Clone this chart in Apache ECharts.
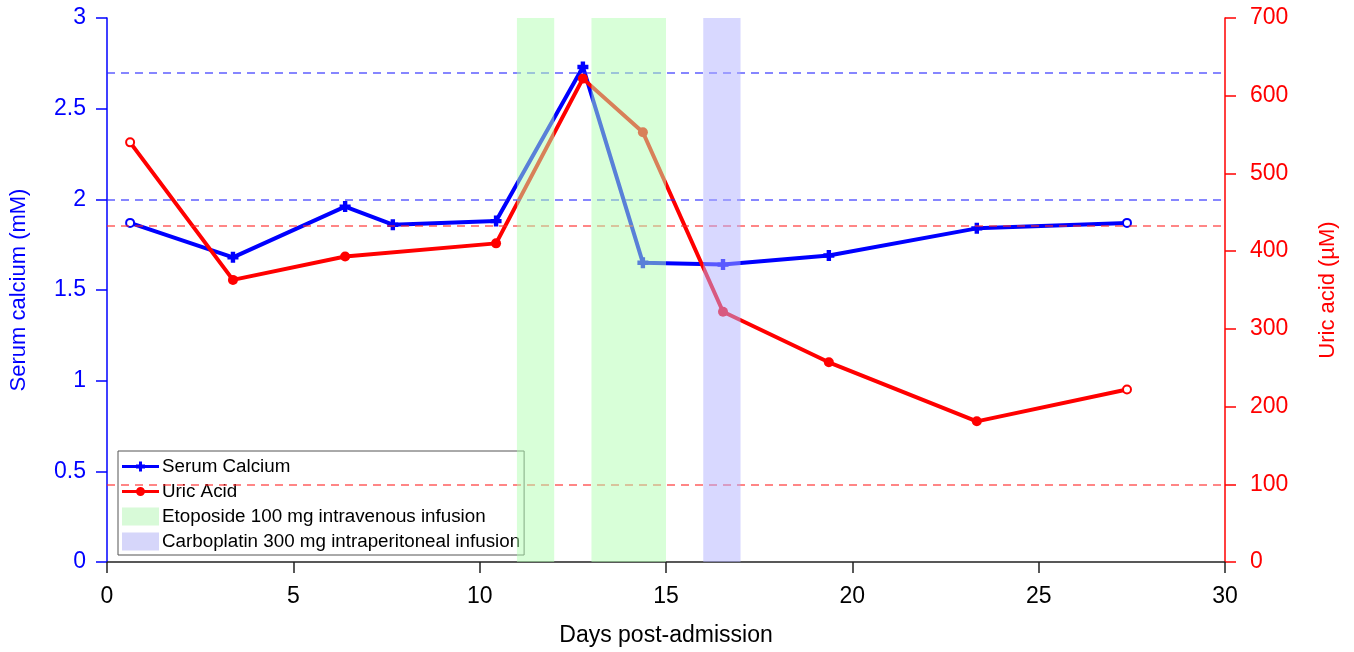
<!DOCTYPE html>
<html>
<head>
<meta charset="utf-8">
<script src="https://cdn.jsdelivr.net/npm/echarts@6/dist/echarts.min.js"></script>
<style>
  html, body { margin: 0; padding: 0; background: #fff; }
  #main { width: 1354px; height: 652px; }
</style>
</head>
<body>
<div id="main"></div>
<script>
// days of each measurement
var calciumDays = [0.62, 3.38, 6.39, 7.67, 10.44, 12.77, 14.38, 16.53, 19.37, 23.34, 27.37];
var calciumValues = [1.87, 1.68, 1.96, 1.86, 1.88, 2.73, 1.65, 1.64, 1.69, 1.84, 1.87];
var uricDays = [0.62, 3.38, 6.39, 10.44, 12.77, 14.38, 16.53, 19.37, 23.34, 27.37];
var uricValues = [540, 363, 393, 410, 622, 553, 322, 257, 181, 222];
// reference ranges
var calciumRefs = [2.0, 2.7];
var uricRefs = [100, 433];
// treatment windows (days)
var etoposideDays = [[11, 12], [13, 15]];
var carboplatinDays = [[16, 17]];

var font = 'Liberation Sans, Arial, sans-serif';
var plusPath = 'path://M3,0 L7,0 L7,3 L10,3 L10,7 L7,7 L7,10 L3,10 L3,7 L0,7 L0,3 L3,3 Z';
// legend icons in a 37x18 box: line pieces either side of the marker
var lineBits = 'M0,0 L0.01,0 Z M37,18 L36.99,18 Z ' +
  'M0,7.5 L14,7.5 L14,10.5 L0,10.5 Z M23,7.5 L37,7.5 L37,10.5 L23,10.5 Z ';
var plusIcon = 'path://' + lineBits +
  'M17,4 L20,4 L20,7 L23,7 L23,11 L20,11 L20,14 L17,14 L17,11 L14,11 L14,7 L17,7 Z';
var dotIcon = 'path://' + lineBits +
  'M14,7.5 L23,7.5 L23,10.5 L14,10.5 Z M14,9 A4.5,4.5 0 1,1 23,9 A4.5,4.5 0 1,1 14,9 Z';

function points(days, vals, color) {
  return days.map(function (d, i) {
    var p = { value: [d, vals[i]] };
    if (i === 0 || i === days.length - 1) {
      p.symbol = 'emptyCircle';
      p.symbolSize = 8;
      p.itemStyle = { color: color, borderWidth: 2 };
    }
    return p;
  });
}

function refLines(vals, color) {
  return {
    silent: true,
    symbol: 'none',
    label: { show: false },
    lineStyle: { color: color, type: [8, 6], width: 1.5 },
    data: vals.map(function (v) { return { yAxis: v }; })
  };
}

function bands(list) {
  return list.map(function (b) { return [{ xAxis: b[0] }, { xAxis: b[1] }]; });
}

var chart = echarts.init(document.getElementById('main'));
chart.setOption({
  animation: false,
  textStyle: { fontFamily: font },
  grid: { left: 107, right: 129, top: 18, bottom: 89 },
  legend: {
    orient: 'vertical',
    left: 118,
    top: 451,
    itemWidth: 37,
    itemHeight: 18,
    itemGap: 6,
    padding: [6, 4, 4, 4],
    borderColor: '#555',
    borderWidth: 1,
    backgroundColor: '#fff',
    textStyle: { fontFamily: font, fontSize: 18.8, lineHeight: 18, color: '#000', padding: [0, 0, 0, -2] },
    data: [
      { name: 'Serum Calcium', icon: plusIcon },
      { name: 'Uric Acid', icon: dotIcon },
      { name: 'Etoposide 100 mg intravenous infusion', icon: 'rect' },
      { name: 'Carboplatin 300 mg intraperitoneal infusion', icon: 'rect' }
    ]
  },
  xAxis: {
    type: 'value',
    min: 0, max: 30, interval: 5,
    name: 'Days post-admission',
    nameLocation: 'middle',
    nameGap: 62,
    nameTextStyle: { fontSize: 23, color: '#000' },
    axisLine: { lineStyle: { color: '#222', width: 1.5 } },
    axisTick: { inside: false, length: 11, lineStyle: { color: '#222', width: 1.5 } },
    axisLabel: { fontSize: 23, color: '#000', margin: 23 },
    splitLine: { show: false }
  },
  yAxis: [
    {
      type: 'value',
      min: 0, max: 3, interval: 0.5,
      name: 'Serum calcium (mM)',
      nameLocation: 'middle',
      nameGap: 77,
      nameTextStyle: { fontSize: 22, color: '#0000ff' },
      axisLine: { show: true, lineStyle: { color: '#0000ff', width: 1.5 } },
      axisTick: { show: true, length: 11, lineStyle: { color: '#0000ff', width: 1.5 } },
      axisLabel: { fontSize: 23, color: '#0000ff', margin: 21 },
      splitLine: { show: false }
    },
    {
      type: 'value',
      min: 0, max: 700, interval: 100,
      position: 'right',
      name: 'Uric acid (µM)',
      nameLocation: 'middle',
      nameGap: 92,
      nameRotate: 90,
      nameTextStyle: { fontSize: 22, color: '#ff0000' },
      axisLine: { show: true, lineStyle: { color: '#ff0000', width: 1.5 } },
      axisTick: { show: true, length: 11, lineStyle: { color: '#ff0000', width: 1.5 } },
      axisLabel: { fontSize: 23, color: '#ff0000', margin: 25 },
      splitLine: { show: false }
    }
  ],
  series: [
    {
      name: 'Serum Calcium',
      type: 'line',
      yAxisIndex: 0,
      z: 3,
      symbol: plusPath,
      symbolSize: 11,
      color: '#0000ff',
      lineStyle: { color: '#0000ff', width: 4 },
      itemStyle: { color: '#0000ff' },
      data: points(calciumDays, calciumValues, '#0000ff'),
      markLine: refLines(calciumRefs, 'rgba(40,40,255,0.75)')
    },
    {
      name: 'Uric Acid',
      type: 'line',
      yAxisIndex: 1,
      z: 3,
      symbol: 'circle',
      symbolSize: 10,
      color: '#ff0000',
      lineStyle: { color: '#ff0000', width: 4 },
      itemStyle: { color: '#ff0000' },
      data: points(uricDays, uricValues, '#ff0000'),
      markLine: refLines(uricRefs, 'rgba(255,40,40,0.75)')
    },
    {
      name: 'Etoposide 100 mg intravenous infusion',
      type: 'line',
      yAxisIndex: 0,
      zlevel: 1,
      z: 10,
      data: [],
      color: 'rgb(216,250,216)',
      itemStyle: { color: 'rgb(216,250,216)' },
      markArea: {
        silent: true,
        z: 10,
        itemStyle: { color: 'rgba(178,255,178,0.5)' },
        data: bands(etoposideDays)
      }
    },
    {
      name: 'Carboplatin 300 mg intraperitoneal infusion',
      type: 'line',
      yAxisIndex: 0,
      zlevel: 1,
      z: 10,
      data: [],
      color: 'rgb(214,214,250)',
      itemStyle: { color: 'rgb(214,214,250)' },
      markArea: {
        silent: true,
        z: 10,
        itemStyle: { color: 'rgba(178,178,255,0.5)' },
        data: bands(carboplatinDays)
      }
    }
  ]
});
</script>
</body>
</html>
